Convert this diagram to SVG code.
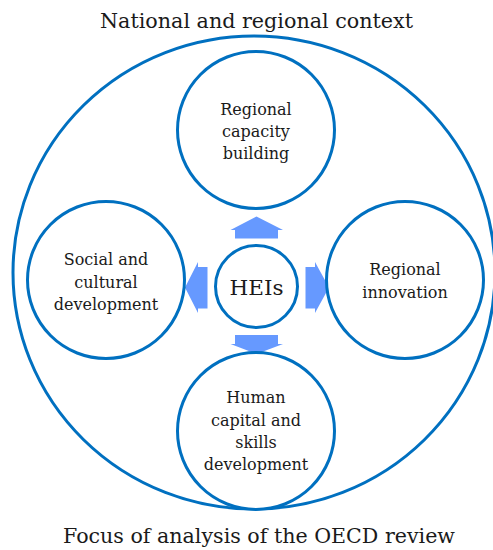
<svg xmlns="http://www.w3.org/2000/svg" width="493" height="550" viewBox="0 0 493 550">
<style>
.c{fill:#fff;stroke:#0070C0;stroke-width:3}
.o{fill:none;stroke:#0070C0;stroke-width:3}
.a{fill:#6699FF}
.t{font-family:"DejaVu Serif","Liberation Serif",serif;font-size:16px;fill:#1a1a1a;text-anchor:middle}
.h{font-family:"DejaVu Serif","Liberation Serif",serif;font-size:21px;fill:#1a1a1a;text-anchor:middle}
</style>
<rect width="493" height="550" fill="#fff"/>
<g id="context">
<ellipse class="o" cx="254" cy="272.5" rx="241" ry="236.5"/>
<text class="h" x="256.5" y="28" textLength="313" lengthAdjust="spacingAndGlyphs">National and regional context</text>
<text class="h" x="259" y="543" textLength="392" lengthAdjust="spacingAndGlyphs">Focus of analysis of the OECD review</text>
</g>
<g id="connectors">
<polygon class="a" points="256.5,216.5 283,230 278,230 278,238.5 235,238.5 235,230 230.5,230"/>
<polygon class="a" points="256.5,354 283,344 278,344 278,335 235,335 235,344 230.5,344"/>
<polygon class="a" points="185,287.5 198,262 198,267 207.5,267 207.5,308.5 198,308.5 198,313"/>
<polygon class="a" points="329,287.5 315,262 315,267 305.5,267 305.5,308.5 315,308.5 315,313"/>
</g>
<g id="top">
<circle class="c" cx="256" cy="130" r="78.5"/>
<text class="t" x="256" y="115">Regional</text>
<text class="t" x="256" y="137">capacity</text>
<text class="t" x="256" y="159">building</text>
</g>
<g id="left">
<circle class="c" cx="106" cy="280" r="78.5"/>
<text class="t" x="106" y="265">Social and</text>
<text class="t" x="106" y="287.5">cultural</text>
<text class="t" x="106" y="309.5">development</text>
</g>
<g id="right">
<circle class="c" cx="405" cy="280" r="78.5"/>
<text class="t" x="405" y="275">Regional</text>
<text class="t" x="405" y="298">innovation</text>
</g>
<g id="bottom">
<circle class="c" cx="256" cy="431" r="78.5"/>
<text class="t" x="256" y="403">Human</text>
<text class="t" x="256" y="426">capital and</text>
<text class="t" x="256" y="448">skills</text>
<text class="t" x="256" y="470">development</text>
</g>
<g id="heis">
<circle class="c" cx="256.5" cy="286.5" r="41"/>
<text class="h" x="256.5" y="295" textLength="54" lengthAdjust="spacingAndGlyphs">HEIs</text>
</g>
</svg>
